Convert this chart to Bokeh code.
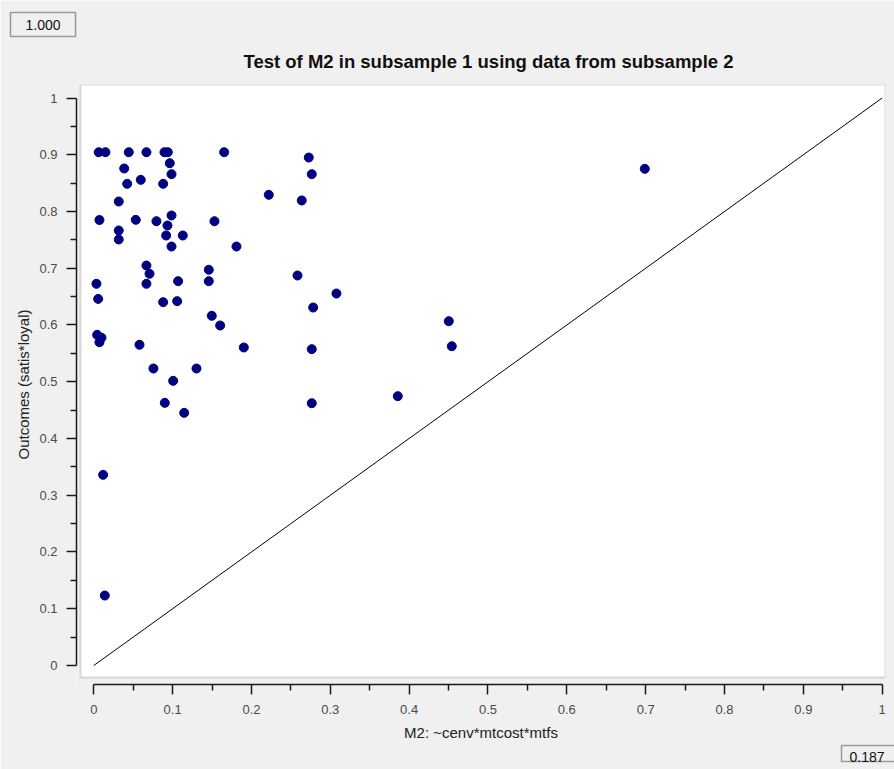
from bokeh.plotting import figure
from bokeh.models import Range1d, FixedTicker, BoxAnnotation, Title, ColumnDataSource
from bokeh.embed import file_html
from bokeh.resources import INLINE

# ---- data ----
m2_x = [0.0063, 0.0148, 0.0444, 0.0668, 0.0897, 0.0939, 0.1654, 0.0964, 0.0386, 0.0986,
        0.0424, 0.0596, 0.0880, 0.2220, 0.0317, 0.0072, 0.0533, 0.0795, 0.0986, 0.1531,
        0.0935, 0.0317, 0.0317, 0.0918, 0.1129, 0.0986, 0.1810, 0.0668, 0.0707, 0.0668,
        0.1070, 0.1459, 0.1459, 0.0034, 0.0056, 0.0880, 0.1058, 0.0043, 0.0098, 0.0072,
        0.0119, 0.0140, 0.2727, 0.2765, 0.2638, 0.2584, 0.3078, 0.2783, 0.1497, 0.1603,
        0.1903, 0.2765, 0.4503, 0.4541, 0.3856, 0.2765, 0.1303, 0.0580, 0.0757, 0.1007,
        0.0901, 0.1147, 0.6989]
outcome_y = [0.9045, 0.9045, 0.9045, 0.9045, 0.9045, 0.9045, 0.9045, 0.8851, 0.8758, 0.8658,
             0.8488, 0.8558, 0.8488, 0.8294, 0.8176, 0.7850, 0.7853, 0.7829, 0.7930, 0.7829,
             0.7753, 0.7665, 0.7507, 0.7577, 0.7577, 0.7383, 0.7383, 0.7048, 0.6902, 0.6726,
             0.6772, 0.6973, 0.6772, 0.6726, 0.6460, 0.6402, 0.6420, 0.5827, 0.5775, 0.5697,
             0.3360, 0.1233, 0.8951, 0.8658, 0.8194, 0.6872, 0.6555, 0.6308, 0.6162, 0.5991,
             0.5604, 0.5574, 0.6067, 0.5626, 0.4746, 0.4622, 0.5233, 0.5651, 0.5233, 0.5016,
             0.4628, 0.4452, 0.8752]
diag_x = [0, 1]
diag_y = [0, 1]
tick_values = [0, 0.1, 0.2, 0.3, 0.4, 0.5, 0.6, 0.7, 0.8, 0.9, 1]
tick_labels = ["0", "0.1", "0.2", "0.3", "0.4", "0.5", "0.6", "0.7", "0.8", "0.9", "1"]
minor_values = [0.05, 0.15, 0.25, 0.35, 0.45, 0.55, 0.65, 0.75, 0.85, 0.95]
title_text = "Test of M2 in subsample 1 using data from subsample 2"
x_title = "M2: ~cenv*mtcost*mtfs"
y_title = "Outcomes (satis*loyal)"
corner_top = "1.000"
corner_bottom = "0.187"

# ---- layout (canvas pixels) ----
W, H = 894, 769
BL, BR, BT, BB = 76, 9, 84, 85
FW, FH = W - BL - BR, H - BT - BB
x0, x1 = -0.0219, 1.0042
y0, y1 = -0.0335, 1.0238

def dx(px):
    return x0 + (px - BL) / FW * (x1 - x0)

def dy(py):
    return y1 - (py - BT) / FH * (y1 - y0)

FONT = "Liberation Sans"
BG = "#f0f0f0"

p = figure(width=W, height=H, output_backend="svg", toolbar_location=None,
           x_range=Range1d(x0, x1), y_range=Range1d(y0, y1),
           min_border_left=BL, min_border_right=BR, min_border_top=BT, min_border_bottom=BB)
p.border_fill_color = BG
p.background_fill_color = BG
p.outline_line_color = None
p.grid.visible = False
p.title.visible = False

# white plotting area inset from the axes
p.add_layout(BoxAnnotation(left=dx(80), right=x1, bottom=dy(677), top=y1,
                           fill_color="white", fill_alpha=1.0,
                           line_color="#8c8c8c", line_width=2, level="underlay"))

main_title = Title(text=title_text, align="left", offset=167, standoff=25,
                   text_font=FONT, text_font_size="18.5px", text_font_style="bold",
                   text_color="#111111")
p.add_layout(main_title, "above")

top_box = Title(text=corner_top, align="left", offset=-66, standoff=0,
                text_font=FONT, text_font_size="14px", text_font_style="normal",
                text_color="#111111", background_fill_color=BG,
                border_line_color="#9a9a9a", border_line_width=1.5,
                padding=dict(x=15, y=7))
p.add_layout(top_box, "above")

for ax in (p.xaxis[0], p.yaxis[0]):
    ax.ticker = FixedTicker(ticks=tick_values, minor_ticks=minor_values)
    ax.major_label_overrides = dict(zip(tick_values, tick_labels))
    ax.bounds = (0, 1)
    ax.axis_line_color = "#1a1a1a"
    ax.axis_line_width = 1.5
    ax.major_tick_line_color = "#1a1a1a"
    ax.major_tick_line_width = 1.5
    ax.minor_tick_line_color = "#1a1a1a"
    ax.minor_tick_line_width = 1.5
    ax.major_tick_in = 0
    ax.major_tick_out = 10
    ax.minor_tick_in = 0
    ax.minor_tick_out = 6
    ax.major_label_text_font = FONT
    ax.major_label_text_font_size = "13px"
    ax.major_label_text_color = "#4a4a4a"
    ax.axis_label_text_font = FONT
    ax.axis_label_text_font_size = "15px"
    ax.axis_label_text_font_style = "normal"
    ax.axis_label_text_color = "#222222"

p.xaxis.axis_label = x_title
p.yaxis.axis_label = y_title
p.xaxis.major_label_standoff = 10
p.yaxis.major_label_standoff = 9
p.xaxis.axis_label_standoff = 7
p.yaxis.axis_label_standoff = 4

bottom_box = Title(text=corner_bottom, align="left", offset=765, standoff=4,
                   vertical_align="top",
                   text_font=FONT, text_font_size="14px", text_font_style="normal",
                   text_color="#111111", background_fill_color=BG,
                   border_line_color="#9a9a9a", border_line_width=1.5,
                   padding=dict(left=8, right=12, top=6, bottom=0))
p.add_layout(bottom_box, "below")

p.line(diag_x, diag_y, line_color="black", line_width=1)
src = ColumnDataSource(data=dict(x=m2_x, y=outcome_y))
p.scatter("x", "y", source=src, size=9, fill_color="#000080", line_color="#000080")

open("out.html", "w").write(file_html(p, INLINE))
